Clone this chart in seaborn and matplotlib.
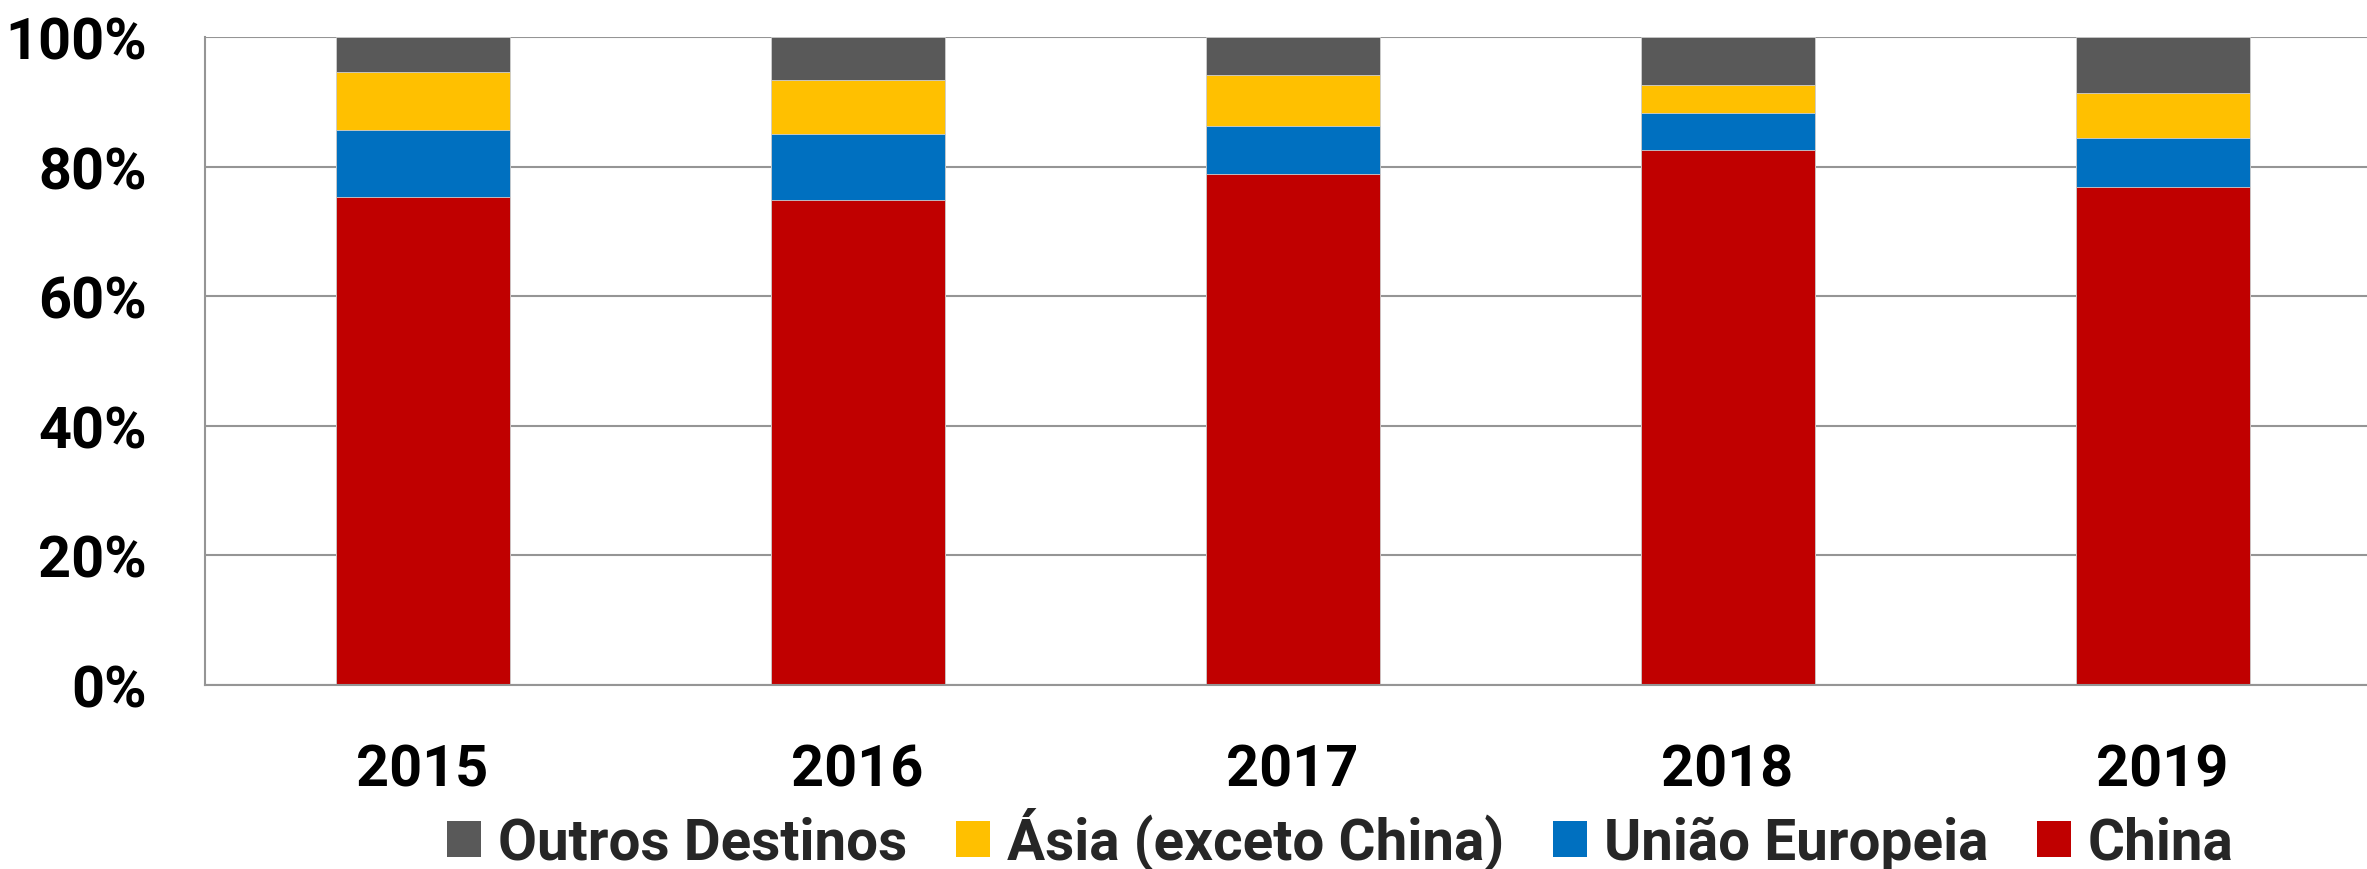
import matplotlib
matplotlib.use("Agg")
import matplotlib.pyplot as plt
from matplotlib.patches import Patch
import numpy as np
import pandas as pd
import seaborn as sns

# Share of exports by destination (%)
years = ["2015", "2016", "2017", "2018", "2019"]
china = [75.3, 74.9, 78.8, 82.5, 76.9]
uniao_europeia = [10.4, 10.1, 7.5, 5.8, 7.5]
asia_exceto_china = [8.9, 8.3, 7.9, 4.3, 6.9]
outros_destinos = [5.4, 6.7, 5.8, 7.4, 8.7]

series_names = ["China", "União Europeia", "Ásia (exceto China)", "Outros Destinos"]
series_values = [china, uniao_europeia, asia_exceto_china, outros_destinos]
series_colors = ["#C00000", "#0070C0", "#FFC000", "#595959"]

y_ticks = [0, 20, 40, 60, 80, 100]
y_tick_labels = ["0%", "20%", "40%", "60%", "80%", "100%"]

sns.set_theme(style="white")
plt.rcParams["font.family"] = ["Roboto", "DejaVu Sans"]
plt.rcParams["font.weight"] = "bold"

W, H = 2367, 870
fig = plt.figure(figsize=(W / 100, H / 100), dpi=100)
fig.patch.set_facecolor("white")
ax = fig.add_axes([205 / W, 1 - 686 / H, 2175 / W, 648 / H])

# Stacked bars: draw cumulative totals from the top segment down
df = pd.DataFrame({"ano": years})
cum = np.cumsum(np.array(series_values), axis=0)
for i in range(len(series_names) - 1, -1, -1):
    df["v"] = cum[i]
    sns.barplot(data=df, x="ano", y="v", color=series_colors[i], width=0.4,
                errorbar=None, ax=ax, saturation=1,
                edgecolor="#d0d0d0", linewidth=0.6)

grid_color = "#959595"
tick_size = 41.5
ax.set_xlim(-0.5, len(years) - 0.5)
ax.set_ylim(0, 100)
ax.set_yticks(y_ticks)
ax.set_yticklabels(y_tick_labels)
ax.set_xticks(np.arange(len(years) + 1) - 0.5)
ax.set_xticklabels([])
ax.set_xticks(np.arange(len(years)), minor=True)
ax.set_xticklabels(years, minor=True)

ax.yaxis.grid(True, color=grid_color, linewidth=1.5)
ax.xaxis.grid(False)
ax.set_axisbelow(True)
for s in ["top", "right"]:
    ax.spines[s].set_visible(False)
for s in ["left", "bottom"]:
    ax.spines[s].set_color(grid_color)
    ax.spines[s].set_linewidth(1.5)

ax.tick_params(axis="y", which="major", length=13.7, width=1.5, color=grid_color,
               pad=28, labelsize=tick_size, labelcolor="black")
ax.tick_params(axis="x", which="major", length=13.7, width=1.5, color=grid_color,
               direction="out")
ax.tick_params(axis="x", which="minor", length=0, pad=41.5, labelsize=tick_size,
               labelcolor="black")
for lbl in ax.get_yticklabels() + ax.get_xticklabels(minor=True):
    lbl.set_fontweight("bold")
ax.set_xlabel("")
ax.set_ylabel("")

# Legend across the bottom, in reverse stacking order
legend_size = 40.8
handles = [Patch(facecolor=series_colors[i], edgecolor="none") for i in range(3, -1, -1)]
labels = [series_names[i] for i in range(3, -1, -1)]
fig.legend(handles, labels, loc="center", bbox_to_anchor=(1340 / W, 1 - 840 / H),
           ncol=4, frameon=False, handlelength=0.60, handleheight=0.60,
           handletextpad=0.30, columnspacing=0.86,
           prop={"family": ["Roboto", "DejaVu Sans"], "weight": "bold", "size": legend_size})

fig.savefig("out.png", dpi=100, facecolor="white")
